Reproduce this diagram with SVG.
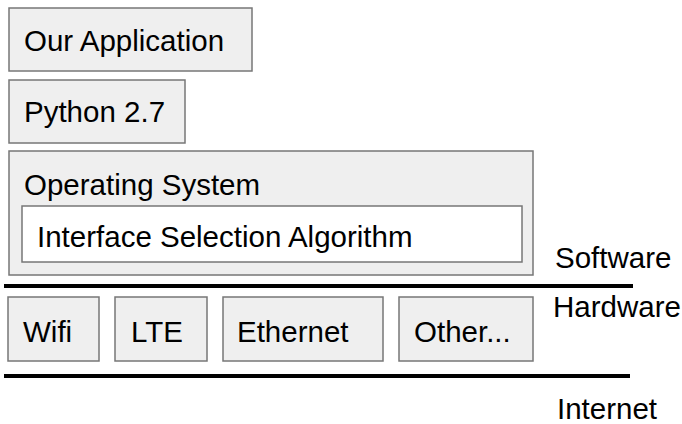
<svg xmlns="http://www.w3.org/2000/svg" width="682" height="424" viewBox="0 0 682 424">
<style>
.box{fill:#efefef;stroke:#777;stroke-width:1.5}
.inner{fill:#fff;stroke:#777;stroke-width:1.5}
.t{font-family:"Liberation Sans",Arial,sans-serif;font-size:29.5px;fill:#000}
.ln{stroke:#000;stroke-width:4}
</style>
<rect width="682" height="424" fill="#fff"/>
<g id="app"><rect class="box" x="9" y="8" width="243" height="63"/><text class="t" x="24" y="51">Our Application</text></g>
<g id="python"><rect class="box" x="9" y="80" width="176" height="63"/><text class="t" x="24" y="122">Python 2.7</text></g>
<g id="os"><rect class="box" x="9" y="151" width="524" height="124"/><text class="t" x="24" y="195">Operating System</text></g>
<g id="isa"><rect class="inner" x="22" y="206" width="500" height="56"/><text class="t" x="37" y="247">Interface Selection Algorithm</text></g>
<g id="wifi"><rect class="box" x="8" y="297" width="91" height="64"/><text class="t" x="23" y="342">Wifi</text></g>
<g id="lte"><rect class="box" x="115" y="297" width="92" height="64"/><text class="t" x="131" y="342">LTE</text></g>
<g id="ethernet"><rect class="box" x="223" y="297" width="160" height="64"/><text class="t" x="237" y="342">Ethernet</text></g>
<g id="other"><rect class="box" x="399" y="297" width="134" height="64"/><text class="t" x="414" y="342">Other...</text></g>
<g id="labels">
<text class="t" x="555" y="268">Software</text>
<text class="t" x="553" y="317">Hardware</text>
<text class="t" x="557" y="419">Internet</text>
</g>
<g id="connectors">
<line class="ln" x1="4" y1="286" x2="633" y2="286"/>
<line class="ln" x1="4" y1="376" x2="630" y2="376"/>
</g>
</svg>
